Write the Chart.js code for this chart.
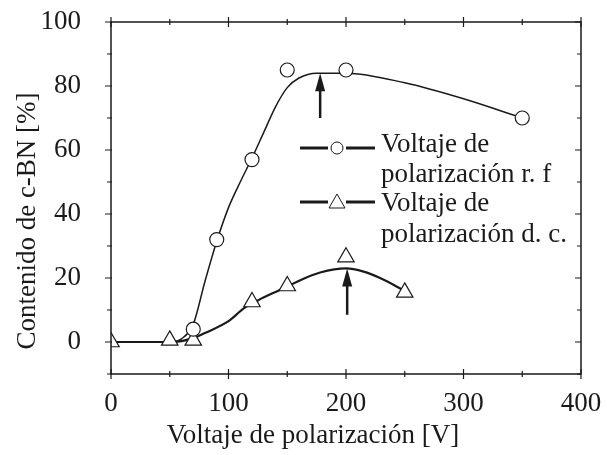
<!DOCTYPE html>
<html>
<head>
<meta charset="utf-8">
<script src="https://cdn.jsdelivr.net/npm/chart.js@4.4.1/dist/chart.umd.min.js"></script>
<style>
  html, body { margin: 0; padding: 0; background: #fff; }
  #wrap { width: 607px; height: 455px; }
</style>
</head>
<body>
<div id="wrap"><canvas id="grafico" width="607" height="455"></canvas></div>
<script>
// Pontos medidos (leitura da figura)
const rfX = [70, 90, 120, 150, 200, 350];
const rfY = [4, 32, 57, 85, 85, 70];
const dcX = [0, 50, 70, 120, 150, 200, 250];
const dcY = [0, 0.5, 0.5, 12.5, 17.5, 26.5, 15.5];

// Curvas de ajuste
const rfFitX = [0, 50, 60, 70, 80, 90, 100, 110, 120, 130, 140, 150, 160, 175, 200, 250, 300, 350];
const rfFitY = [0, 0, 1, 5.5, 19, 31.5, 42, 50, 57.5, 65.5, 73.5, 79.5, 82.5, 84, 84, 81, 76, 70];
const dcFitX = [0, 50, 60, 70, 80, 100, 113, 125, 141, 150, 161, 178, 200, 215, 229, 250];
const dcFitY = [0, 0, 0.3, 1.2, 2.8, 6.5, 10.5, 13, 15.8, 17.3, 19.3, 21.7, 23, 22, 20, 16];

// Setas (x, base, ponta)
const arrowX = [178, 201];
const arrowBase = [70, 8.5];
const arrowTip = [84, 23];

// Eixos
const xTicks = [0, 100, 200, 300, 400];
const xMinor = [50, 150, 250, 350];
const yTicks = [0, 20, 40, 60, 80, 100];
const yMinor = [-10, 10, 30, 50, 70, 90];

const legendLabels = [
  ['Voltaje de', 'polarización r. f'],
  ['Voltaje de', 'polarización d. c.']
];
const xTitle = 'Voltaje de polarización [V]';
const yTitle = 'Contenido de c-BN [%]';

const fonte = '27px "Liberation Serif", "Times New Roman", serif';
const tinta = '#1a1a1a';

const toPts = (xs, ys) => xs.map((x, i) => ({ x: x, y: ys[i] }));

// Plugin para moldura, marcas, setas, legenda e títulos
const extras = {
  id: 'extras',
  afterDatasetsDraw(chart) {
    const ctx = chart.ctx;
    const a = chart.chartArea;
    const sx = chart.scales.x, sy = chart.scales.y;
    ctx.save();
    ctx.strokeStyle = tinta;
    ctx.fillStyle = tinta;

    // moldura
    ctx.lineWidth = 1.5;
    ctx.strokeRect(a.left, a.top, a.right - a.left, a.bottom - a.top);

    // marcas
    ctx.lineWidth = 1.2;
    ctx.beginPath();
    const marcaX = (v, len) => {
      const p = sx.getPixelForValue(v);
      ctx.moveTo(p, a.bottom - len); ctx.lineTo(p, a.bottom + len);
      ctx.moveTo(p, a.top - len); ctx.lineTo(p, a.top + len);
    };
    const marcaY = (v, len) => {
      const p = sy.getPixelForValue(v);
      ctx.moveTo(a.left - len, p); ctx.lineTo(a.left + 1, p);
      ctx.moveTo(a.right - len, p); ctx.lineTo(a.right, p);
    };
    xTicks.forEach(v => marcaX(v, 5));
    xMinor.forEach(v => marcaX(v, 3));
    yTicks.forEach(v => marcaY(v, 6));
    yMinor.forEach(v => marcaY(v, 4));
    ctx.stroke();

    // setas
    arrowX.forEach((x, i) => {
      const px = sx.getPixelForValue(x);
      const pb = sy.getPixelForValue(arrowBase[i]);
      const pt = sy.getPixelForValue(arrowTip[i]);
      ctx.lineWidth = 2.5;
      ctx.beginPath();
      ctx.moveTo(px, pb); ctx.lineTo(px, pt + 14);
      ctx.stroke();
      ctx.beginPath();
      ctx.moveTo(px, pt);
      ctx.lineTo(px - 5, pt + 18);
      ctx.lineTo(px + 5, pt + 18);
      ctx.closePath();
      ctx.fill();
    });

    // legenda
    ctx.font = fonte;
    ctx.textAlign = 'left';
    ctx.textBaseline = 'alphabetic';
    const linhasY = [148, 202];
    const bases = [[152, 182], [211, 242]];
    legendLabels.forEach((txt, i) => {
      const y = linhasY[i];
      ctx.lineWidth = 3;
      ctx.beginPath();
      ctx.moveTo(300, y); ctx.lineTo(328, y);
      ctx.moveTo(346, y); ctx.lineTo(375, y);
      ctx.stroke();
      ctx.lineWidth = 1;
      ctx.fillStyle = '#fff';
      ctx.beginPath();
      if (i === 0) {
        ctx.arc(337, y, 6, 0, Math.PI * 2);
      } else {
        ctx.moveTo(337, y - 8); ctx.lineTo(345, y + 6); ctx.lineTo(329, y + 6); ctx.closePath();
      }
      ctx.fill();
      ctx.stroke();
      ctx.fillStyle = tinta;
      ctx.fillText(txt[0], 381, bases[i][0]);
      ctx.fillText(txt[1], 381, bases[i][1]);
    });

    // títulos dos eixos
    ctx.textAlign = 'center';
    ctx.fillText(xTitle, 313, 443);
    ctx.translate(35, 221);
    ctx.rotate(-Math.PI / 2);
    ctx.fillText(yTitle, 0, 0);
    ctx.restore();
  }
};

new Chart(document.getElementById('grafico'), {
  type: 'scatter',
  data: {
    datasets: [
      {
        label: 'rf',
        data: toPts(rfX, rfY),
        showLine: false,
        pointStyle: 'circle',
        pointRadius: 7,
        pointBackgroundColor: '#fff',
        pointBorderColor: tinta,
        pointBorderWidth: 1.2
      },
      {
        label: 'dc',
        data: toPts(dcX, dcY),
        showLine: false,
        pointStyle: 'triangle',
        pointRadius: 9.5,
        pointBackgroundColor: '#fff',
        pointBorderColor: tinta,
        pointBorderWidth: 1.2
      },
      {
        label: 'rfFit',
        data: toPts(rfFitX, rfFitY),
        showLine: true,
        pointRadius: 0,
        borderColor: tinta,
        borderWidth: 1.5,
        cubicInterpolationMode: 'monotone'
      },
      {
        label: 'dcFit',
        data: toPts(dcFitX, dcFitY),
        showLine: true,
        pointRadius: 0,
        borderColor: tinta,
        borderWidth: 2.2,
        cubicInterpolationMode: 'monotone'
      }
    ]
  },
  options: {
    responsive: false,
    animation: false,
    events: [],
    layout: { padding: { left: 0, top: 22, right: 26, bottom: 0 } },
    plugins: { legend: { display: false }, tooltip: { enabled: false } },
    scales: {
      x: {
        type: 'linear',
        min: 0,
        max: 400,
        afterFit: s => { s.height = 81; s.paddingLeft = 0; s.paddingRight = 0; },
        afterBuildTicks: s => { s.ticks = xTicks.map(v => ({ value: v })); },
        grid: { display: false },
        border: { display: false },
        ticks: { color: tinta, font: { family: 'Liberation Serif', size: 27 }, padding: 6, maxRotation: 0 }
      },
      y: {
        type: 'linear',
        min: -10,
        max: 100,
        afterFit: s => { s.width = 111; s.paddingTop = 0; s.paddingBottom = 0; },
        afterBuildTicks: s => { s.ticks = yTicks.map(v => ({ value: v })); },
        grid: { display: false },
        border: { display: false },
        ticks: { color: tinta, font: { family: 'Liberation Serif', size: 27 }, padding: 22 }
      }
    }
  },
  plugins: [extras]
});
</script>
</body>
</html>
